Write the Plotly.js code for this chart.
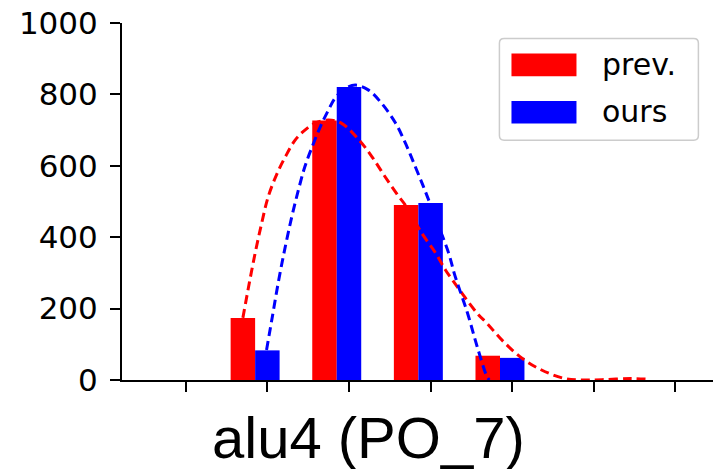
<!DOCTYPE html>
<html>
<head>
<meta charset="utf-8">
<script src="https://cdn.plot.ly/plotly-3.0.1.min.js"></script>
<style>html,body{margin:0;padding:0;background:#fff;}#chart{width:713px;height:469px;}</style>
</head>
<body>
<div id="chart"></div>
<script>
// Bin positions (x ticks) and counts
const binTicks = [0, 1, 2, 3, 4, 5, 6];
const binPos = [1, 2, 3, 4];
const prevCounts = [174, 727, 490, 68];
const oursCounts = [83, 821, 496, 62];
const seriesNames = ['prev.', 'ours'];
const yTicks = [0, 200, 400, 600, 800, 1000];
const chartTitle = 'alu4 (PO_7)';

// Dashed fitted curves
const prevCurveX = [0.70, 0.77, 0.85, 0.93, 1.01, 1.12, 1.22, 1.34, 1.46, 1.59, 1.75, 1.91, 2.12, 2.28, 2.44, 2.61, 2.69, 2.89, 3.06, 3.18, 3.28, 3.57, 3.69, 3.89, 4.12, 4.36, 4.63, 4.85, 5.10, 5.45, 5.69];
const prevCurveY = [174, 261, 355, 439, 513, 579, 625, 672, 700, 720, 728, 719, 673, 626, 570, 514, 490, 412, 356, 309, 276, 187, 159, 108, 61, 28, 5, 0, 1, 4, 2];
const oursCurveX = [0.99, 1.06, 1.14, 1.22, 1.30, 1.38, 1.46, 1.55, 1.65, 1.75, 1.83, 1.95, 2.08, 2.24, 2.40, 2.57, 2.69, 2.81, 2.91, 2.99, 3.10, 3.22, 3.30, 3.45, 3.57, 3.69, 3.72];
const oursCurveY = [84, 176, 281, 374, 458, 532, 598, 654, 710, 757, 790, 816, 826, 812, 775, 720, 664, 599, 543, 496, 430, 356, 291, 189, 94, 10, 0];

const RED = '#ff0000', BLUE = '#0000ff';

const traces = [
  {type: 'bar', x: binPos, y: prevCounts, width: 0.3, offset: -0.45, name: seriesNames[0],
   marker: {color: RED, line: {width: 0}}, showlegend: false, hoverinfo: 'skip'},
  {type: 'bar', x: binPos, y: oursCounts, width: 0.3, offset: -0.15, name: seriesNames[1],
   marker: {color: BLUE, line: {width: 0}}, showlegend: false, hoverinfo: 'skip'},
  {type: 'scatter', mode: 'lines', x: prevCurveX, y: prevCurveY, showlegend: false,
   line: {color: RED, width: 3, dash: '9px,5px', shape: 'spline', smoothing: 1}, hoverinfo: 'skip'},
  {type: 'scatter', mode: 'lines', x: oursCurveX, y: oursCurveY, showlegend: false,
   line: {color: BLUE, width: 3, dash: '9px,5px', shape: 'spline', smoothing: 1}, hoverinfo: 'skip'}
];

// legend geometry (paper coords)
const bx0 = 0.6386, bx1 = 0.9753, by0 = 0.6717, by1 = 0.9563, rx = 0.008, ry = 0.013;
const boxPath = `M ${bx0+rx},${by1} L ${bx1-rx},${by1} Q ${bx1},${by1} ${bx1},${by1-ry} L ${bx1},${by0+ry} Q ${bx1},${by0} ${bx1-rx},${by0} L ${bx0+rx},${by0} Q ${bx0},${by0} ${bx0},${by0+ry} L ${bx0},${by1-ry} Q ${bx0},${by1} ${bx0+rx},${by1} Z`;

const layout = {
  width: 713, height: 469,
  margin: {l: 121.7, r: 0, t: 22.7, b: 89},
  paper_bgcolor: '#ffffff', plot_bgcolor: '#ffffff',
  barmode: 'overlay',
  showlegend: false,
  font: {family: 'DejaVu Sans', size: 30, color: '#000000'},
  xaxis: {
    range: [-0.781, 6.46], tickvals: binTicks, showticklabels: false,
    ticks: 'outside', ticklen: 10, tickwidth: 2, tickcolor: '#000',
    showline: true, linewidth: 2, linecolor: '#000', showgrid: false, zeroline: false, fixedrange: true
  },
  yaxis: {
    range: [0, 1000], tickvals: yTicks, ticktext: yTicks.map(String),
    ticks: 'outside', ticklen: 10, tickwidth: 2, tickcolor: '#000',
    ticklabelstandoff: 6,
    tickfont: {family: 'DejaVu Sans', size: 31, color: '#000'},
    showline: true, linewidth: 2, linecolor: '#000', showgrid: false, zeroline: false, fixedrange: true
  },
  shapes: [
    {type: 'path', xref: 'paper', yref: 'paper', path: boxPath,
     fillcolor: 'rgba(255,255,255,0.85)', line: {color: '#cccccc', width: 1.5}, layer: 'above'},
    {type: 'rect', xref: 'paper', yref: 'paper', x0: 0.659, x1: 0.769, y0: 0.8508, y1: 0.9143,
     fillcolor: RED, line: {width: 0}, layer: 'above'},
    {type: 'rect', xref: 'paper', yref: 'paper', x0: 0.659, x1: 0.769, y0: 0.7184, y1: 0.7817,
     fillcolor: BLUE, line: {width: 0}, layer: 'above'}
  ],
  annotations: [
    {xref: 'paper', yref: 'paper', x: 0.808, y: 0.8824, xanchor: 'left', yanchor: 'middle',
     text: seriesNames[0], showarrow: false, font: {family: 'DejaVu Sans', size: 30, color: '#000'}},
    {xref: 'paper', yref: 'paper', x: 0.808, y: 0.7514, xanchor: 'left', yanchor: 'middle',
     text: seriesNames[1], showarrow: false, font: {family: 'DejaVu Sans', size: 30, color: '#000'}},
    {xref: 'paper', yref: 'paper', x: 0.4174, y: -0.162, xanchor: 'center', yanchor: 'middle',
     text: chartTitle, showarrow: false, font: {family: 'Liberation Sans', size: 58, color: '#000'}}
  ]
};

Plotly.newPlot('chart', traces, layout, {staticPlot: true, displayModeBar: false});
</script>
</body>
</html>
